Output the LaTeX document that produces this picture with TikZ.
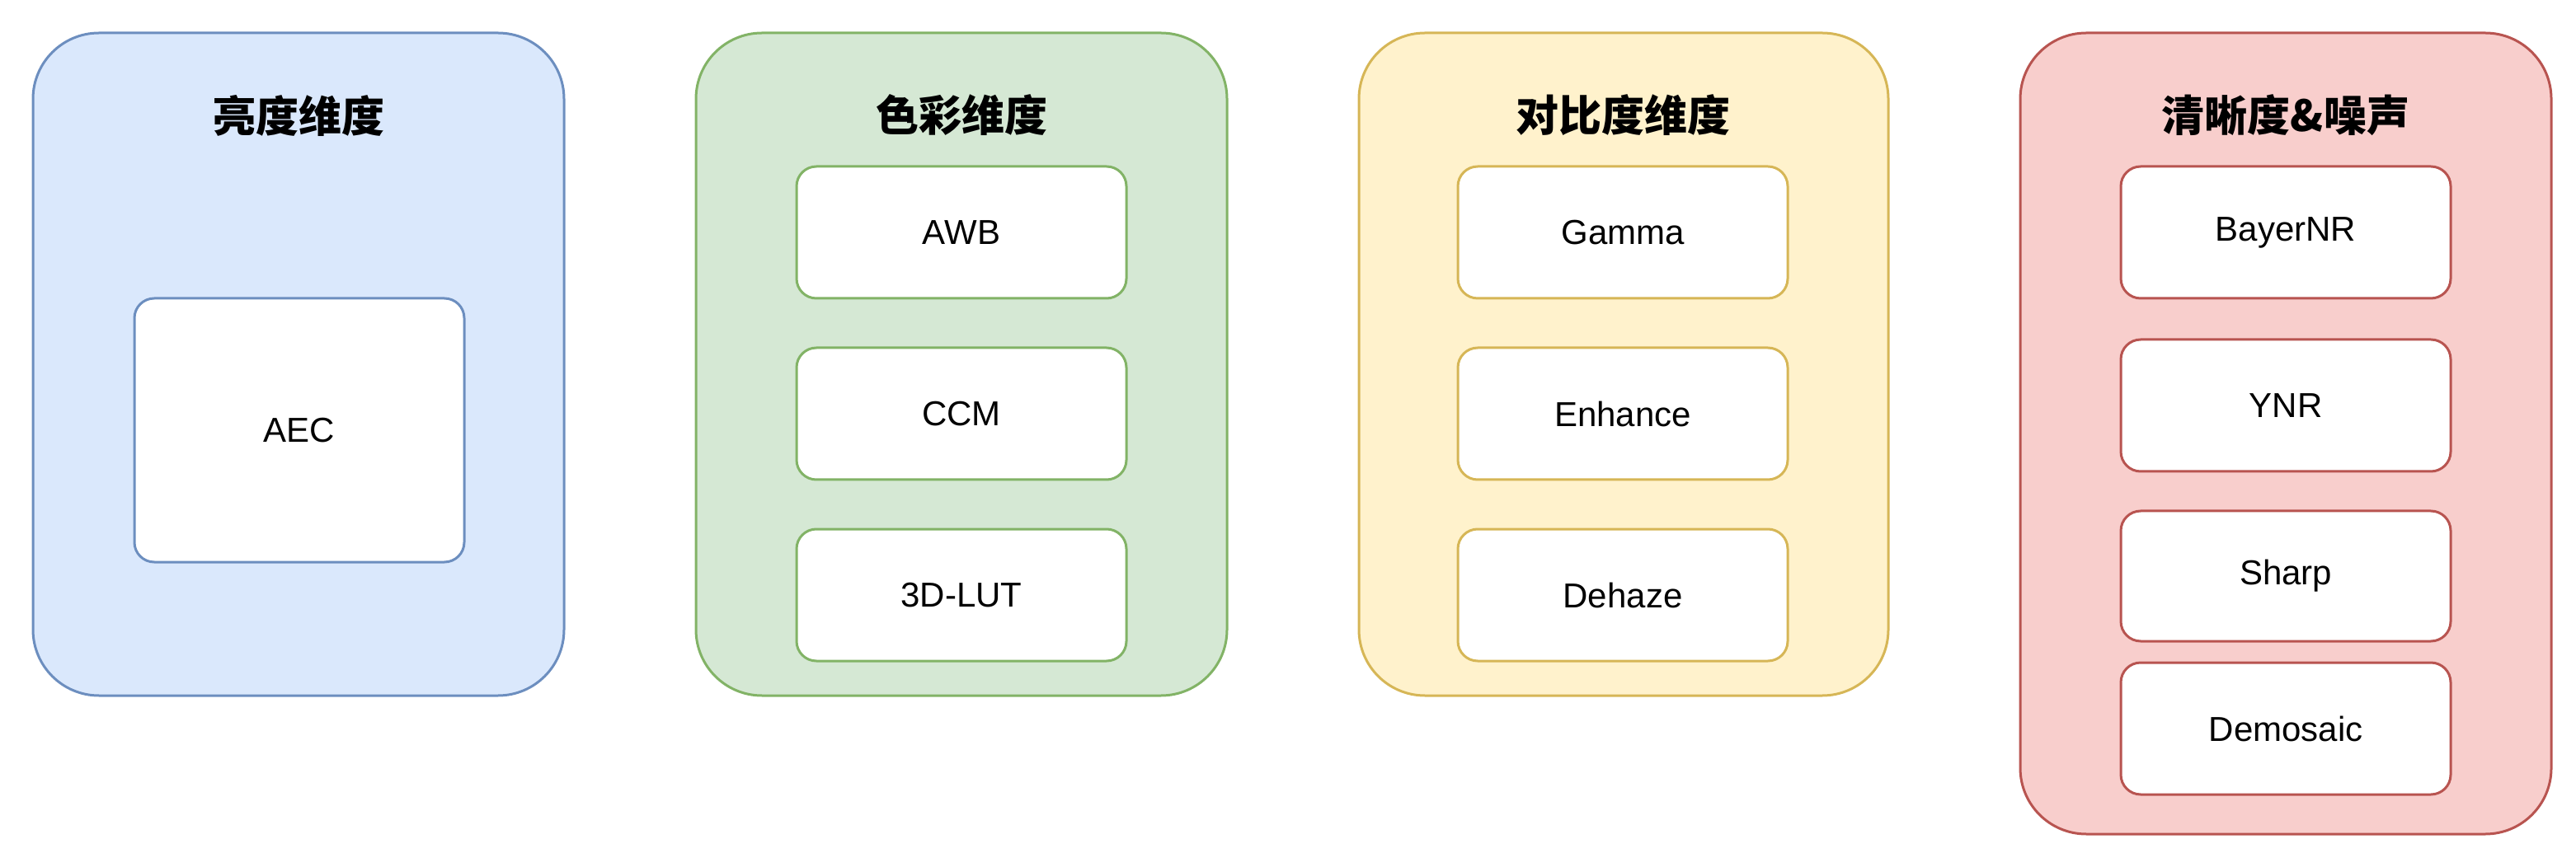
\documentclass[tikz,border=0pt]{standalone}
\usepackage{fontspec}
\setmainfont{Liberation Sans}
\newfontfamily\cjk{Noto Sans CJK SC}
\definecolor{blueF}{HTML}{DAE8FC}\definecolor{blueD}{HTML}{6C8EBF}
\definecolor{greenF}{HTML}{D5E8D4}\definecolor{greenD}{HTML}{82B366}
\definecolor{yellowF}{HTML}{FFF2CC}\definecolor{yellowD}{HTML}{D6B656}
\definecolor{redF}{HTML}{F8CECC}\definecolor{redD}{HTML}{B85450}
\begin{document}
\begin{tikzpicture}[
    x=1pt, y=-1pt,
    group/.style={draw=#1D, fill=#1F, line width=1.5pt, rounded corners=40pt}, % 外框
    item/.style={draw=#1D, fill=white, line width=1.5pt, rounded corners=12pt,
        minimum width=200pt, inner sep=0, font=\fontsize{21}{21}\selectfont}, % 模块
    title/.style={font=\cjk\bfseries\fontsize{26}{26}\selectfont} % 标题
  ]
  \useasboundingbox (0,0) rectangle (1562,526);

  % 亮度维度
  \draw[group=blue] (20,20) rectangle (342,422);
  \node[title] (tBright) at (181,70) {亮度维度};
  \node[item=blue, minimum height=160pt] (aec) at (181.5,261) {AEC};

  % 色彩维度
  \draw[group=green] (422,20) rectangle (744,422);
  \node[title] (tColor) at (583,70) {色彩维度};
  \node[item=green, minimum height=80pt] (awb) at (583,141) {AWB};
  \node[item=green, minimum height=80pt] (ccm) at (583,251) {CCM};
  \node[item=green, minimum height=80pt] (lut) at (583,361) {3D-LUT};

  % 对比度维度
  \draw[group=yellow] (824,20) rectangle (1145,422);
  \node[title] (tContrast) at (984,70) {对比度维度};
  \node[item=yellow, minimum height=80pt] (gamma) at (984,141) {Gamma};
  \node[item=yellow, minimum height=80pt] (enhance) at (984,251) {Enhance};
  \node[item=yellow, minimum height=80pt] (dehaze) at (984,361) {Dehaze};

  % 清晰度&噪声
  \draw[group=red] (1225,20) rectangle (1547,506);
  \node[title] (tSharp) at (1386,70) {清晰度\&噪声};
  \node[item=red, minimum height=80pt] (bayer) at (1386,141) {BayerNR};
  \node[item=red, minimum height=80pt] (ynr) at (1386,246) {YNR};
  \node[item=red, minimum height=79pt] (sharp) at (1386,349.5) {Sharp};
  \node[item=red, minimum height=80pt] (demosaic) at (1386,442) {Demosaic};
\end{tikzpicture}
\end{document}
